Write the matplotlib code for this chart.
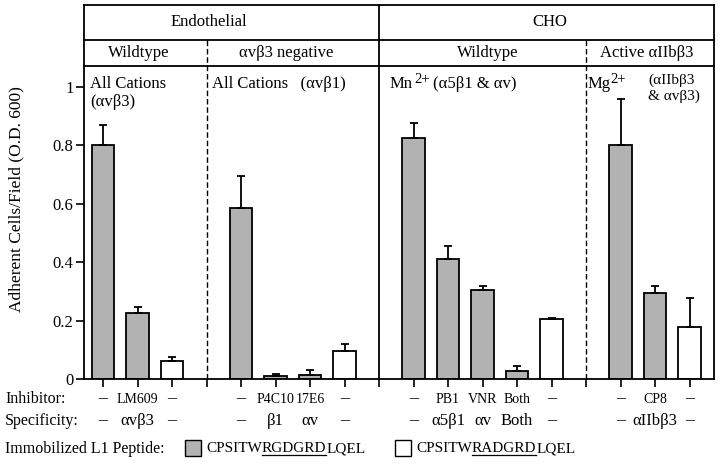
import numpy as np
import matplotlib.pyplot as plt
from matplotlib.transforms import blended_transform_factory
from matplotlib.patches import Rectangle

plt.rcParams['font.family'] = ['Liberation Serif', 'DejaVu Serif']
plt.rcParams['mathtext.fontset'] = 'custom'
plt.rcParams['mathtext.rm'] = 'Liberation Serif'

# data
group_sizes = [3, 4, 5, 3]
adherent = [0.80, 0.225, 0.063,
            0.586, 0.011, 0.012, 0.097,
            0.824, 0.409, 0.304, 0.028, 0.204,
            0.80, 0.293, 0.177]
err_up = [0.07, 0.02, 0.013,
          0.11, 0.005, 0.02, 0.023,
          0.052, 0.046, 0.015, 0.017, 0.004,
          0.157, 0.024, 0.10]
peptide = ['RGD', 'RGD', 'RAD',
           'RGD', 'RGD', 'RGD', 'RAD',
           'RGD', 'RGD', 'RGD', 'RGD', 'RAD',
           'RGD', 'RGD', 'RAD']
inhibitor = ['–', 'LM609', '–',
             '–', 'P4C10', '17E6', '–',
             '–', 'PB1', 'VNR', 'Both', '–',
             '–', 'CP8', '–']
specificity = ['–', 'αvβ3', '–',
               '–', 'β1', 'αv', '–',
               '–', 'α5β1', 'αv', 'Both', '–',
               '–', 'αIIbβ3', '–']
cell_type = ['Endothelial', 'CHO']
cell_span = [2, 2]   # how many sub groups each cell type covers
subgroup = ['Wildtype', 'αvβ3 negative', 'Wildtype', 'Active αIIbβ3']
yticks = [0, 0.2, 0.4, 0.6, 0.8, 1]

# bar slots: groups separated by one empty slot
pos = []
seps = []
start = 0
for n in group_sizes:
    pos += list(range(start, start + n))
    start += n + 1
    seps.append(start - 1)
seps = seps[:-1]
pos = np.array(pos)

fig = plt.figure(figsize=(7.2, 4.66), dpi=100)
ax = fig.add_axes([0.1167, 0.1867, 0.875, 0.6717])

gray = '#b2b2b2'
colors = [gray if p == 'RGD' else 'white' for p in peptide]
ax.bar(pos, adherent, width=0.64, color=colors, edgecolor='black', linewidth=1.3, zorder=2)
ax.errorbar(pos, adherent, yerr=[np.zeros(len(pos)), err_up], fmt='none',
            ecolor='black', elinewidth=1.3, capsize=3, capthick=1.3, zorder=3)

ax.set_xlim(-0.55, 17.71)
ax.set_ylim(0, 1.071)
ax.set_yticks(yticks)
ax.set_yticklabels(['0' if t == 0 else ('1' if t == 1 else f'{t:.1f}') for t in yticks])
ax.set_xticks(np.arange(0, 18))
ax.set_xticklabels([])
ax.tick_params(axis='both', direction='out', length=6, width=1.2, labelsize=12, pad=1.5)
for s in ax.spines.values():
    s.set_linewidth(1.3)
ax.set_ylabel('Adherent Cells/Field (O.D. 600)', fontsize=12.5)
ax.yaxis.set_label_coords(-0.094, 0.575)

trans = blended_transform_factory(ax.transData, ax.transAxes)
xl, xr = ax.get_xlim()
row1 = 1 + 26 / 313
top = 1 + 61 / 313

# separators inside the plot and header
ax.plot([seps[1], seps[1]], [0, top], transform=trans, color='black', lw=1.3, clip_on=False)
for s in (seps[0], seps[2]):
    ax.plot([s, s], [0, row1], transform=trans, color='black', lw=1, ls=(0, (4, 2)), clip_on=False)
ax.plot([xl, xr], [row1, row1], transform=trans, color='black', lw=1.3, clip_on=False)
ax.plot([xl, xr], [top, top], transform=trans, color='black', lw=1.3, clip_on=False)
ax.plot([xl, xl], [1, top], transform=trans, color='black', lw=1.3, clip_on=False)
ax.plot([xr, xr], [1, top], transform=trans, color='black', lw=1.3, clip_on=False)

# header text
bounds = [xl] + seps + [xr]
sub_shift = [-0.2, -0.2, 0.15, -0.1]
for i, name in enumerate(subgroup):
    ax.text((bounds[i] + bounds[i + 1]) / 2 + sub_shift[i], (1 + row1) / 2, name, transform=trans,
            ha='center', va='center', fontsize=12)
cell_shift = [-0.65, 0.1]
k = 0
for i, (name, n) in enumerate(zip(cell_type, cell_span)):
    ax.text((bounds[k] + bounds[k + n]) / 2 + cell_shift[i], (row1 + top) / 2, name, transform=trans,
            ha='center', va='center', fontsize=12)
    k += n

# condition notes inside the panels
ax.text(-0.38, 0.968, 'All Cations\n(αvβ3)', transform=trans, ha='left', va='top',
        fontsize=12, linespacing=1.2)
ax.text(3.17, 0.968, 'All Cations   (αvβ1)', transform=trans, ha='left', va='top', fontsize=12)
mn = ax.text(8.29, 0.968, 'Mn', transform=trans, ha='left', va='top', fontsize=12)
mn2 = ax.annotate('2+', xy=(1, 1), xycoords=mn, xytext=(2, 2), textcoords='offset points',
                  ha='left', va='top', fontsize=10.5)
ax.annotate('(α5β1 & αv)', xy=(1, 1), xycoords=mn2, xytext=(2, -2), textcoords='offset points',
            ha='left', va='top', fontsize=12)
mg = ax.text(14.05, 0.968, 'Mg', transform=trans, ha='left', va='top', fontsize=12)
ax.annotate('2+', xy=(1, 1), xycoords=mg, xytext=(0, 2), textcoords='offset points',
            ha='left', va='top', fontsize=10.5)
ax.text(15.8, 0.975, '(αIIbβ3\n& αvβ3)', transform=trans, ha='left', va='top',
        fontsize=11, linespacing=1.2)

# inhibitor / specificity rows
for x, a, b in zip(pos, inhibitor, specificity):
    ax.text(x, -0.064, a, transform=trans, ha='center', va='center', fontsize=10 if a != '–' else 13)
    ax.text(x, -0.134, b, transform=trans, ha='center', va='center', fontsize=12 if b != '–' else 13)
fig.text(5 / 720, 1 - 399 / 466, 'Inhibitor:', ha='left', va='center', fontsize=11.5)
fig.text(5 / 720, 1 - 421 / 466, 'Specificity:', ha='left', va='center', fontsize=11.5)
fig.text(5 / 720, 1 - 449 / 466, 'Immobilized L1 Peptide:', ha='left', va='center', fontsize=11.5)

# legend with underlined motif
fig.canvas.draw()
renderer = fig.canvas.get_renderer()
yl = 1 - 449 / 466
for x0, fc, motif in [(185, gray, 'RGDGRD'), (395, 'white', 'RADGRD')]:
    fig.patches.append(Rectangle((x0 / 720, yl - 7 / 466), 16 / 720, 16 / 466,
                                 transform=fig.transFigure, facecolor=fc,
                                 edgecolor='black', lw=1))
    xt = (x0 + 21) / 720
    pieces = ['CPSITW', motif, 'LQEL']
    for j, piece in enumerate(pieces):
        t = fig.text(xt, yl, piece, ha='left', va='center', fontsize=11)
        bb = t.get_window_extent(renderer)
        if j == 1:
            fig.add_artist(plt.Line2D([bb.x0 / 720, bb.x1 / 720],
                                      [(bb.y0 + 1) / 466, (bb.y0 + 1) / 466],
                                      transform=fig.transFigure, color='black', lw=0.9))
        xt = bb.x1 / 720

fig.savefig('out.png', dpi=100)
